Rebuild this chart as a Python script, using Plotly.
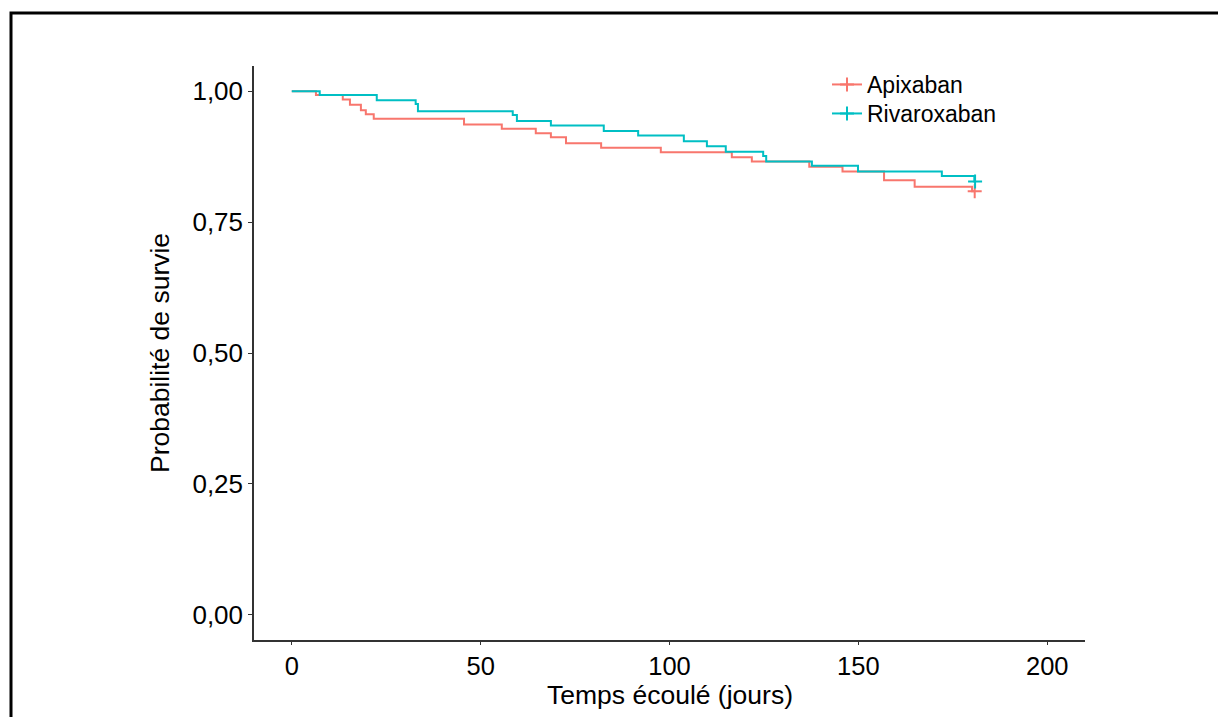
import plotly.graph_objects as go

# Kaplan-Meier step data
apix_t = [0, 6.4, 13.5, 15.4, 18.3, 19.6, 21.7, 45.6, 55.6, 64.6, 68.6, 72.6, 81.9,
          97.7, 116.5, 121.8, 137.0, 145.8, 156.8, 164.9, 180.1, 180.8]
apix_s = [1.0, 0.9924, 0.9838, 0.9742, 0.9634, 0.9557, 0.9471, 0.9361, 0.9284, 0.9195,
          0.9118, 0.9004, 0.8918, 0.8832, 0.8737, 0.8655, 0.8555, 0.8464, 0.8298,
          0.8174, 0.8089, 0.8089]
apix_cens_t = [180.8]
apix_cens_s = [0.8089]

riva_t = [0, 7.4, 22.5, 32.8, 33.4, 58.5, 59.6, 68.6, 82.6, 91.7, 103.8, 109.9, 114.9,
          124.8, 125.6, 137.7, 149.9, 172.1, 180.7, 180.9]
riva_s = [1.0, 0.9927, 0.9824, 0.9756, 0.9615, 0.9546, 0.9431, 0.9342, 0.9237, 0.9151,
          0.9042, 0.8947, 0.8845, 0.8763, 0.8658, 0.8573, 0.8464, 0.8378, 0.8273, 0.8273]
riva_cens_t = [180.9]
riva_cens_s = [0.8273]

x_ticks = [0, 50, 100, 150, 200]
y_ticks = [0, 0.25, 0.5, 0.75, 1.0]
y_tick_text = ["0,00", "0,25", "0,50", "0,75", "1,00"]

names = ["Apixaban", "Rivaroxaban"]
colors = ["#F8766D", "#00BFC4"]
x_title = "Temps écoulé (jours)"
y_title = "Probabilité de survie"

FONT = "Liberation Sans, Arial, sans-serif"

W, H = 1226, 717
OFF = 8  # page body margin
PL, PR, PT, PB = 254, 1085, 66, 640  # plot area in page pixels
pw, ph = PR - PL, PB - PT
L = PL - OFF
T = PT - OFF
R = W - L - pw
B = H - T - ph

def px(xp):
    return (xp - PL) / pw

def py(yp):
    return (PB - yp) / ph

fig = go.Figure()
series = [(apix_t, apix_s, apix_cens_t, apix_cens_s), (riva_t, riva_s, riva_cens_t, riva_cens_s)]
for (t, s, ct, cs), name, col in zip(series, names, colors):
    fig.add_trace(go.Scatter(x=t, y=s, mode="lines", line=dict(color=col, width=2, shape="hv"),
                             showlegend=False, hoverinfo="skip"))
legend_ids = ["legend", "legend2"]
for (t, s, ct, cs), name, col, lg in zip(series, names, colors, legend_ids):
    fig.add_trace(go.Scatter(x=ct, y=cs, mode="lines+markers", name=name, legend=lg,
                             line=dict(color=col, width=2),
                             marker=dict(symbol="cross-thin", size=10, color=col,
                                         line=dict(color=col, width=2))))

legend_common = dict(xanchor="left", yanchor="top", bgcolor="rgba(0,0,0,0)",
                     font=dict(size=23, color="black"))

fig.update_layout(
    width=W, height=H,
    margin=dict(l=L, r=R, t=T, b=B, autoexpand=False),
    paper_bgcolor="white", plot_bgcolor="white",
    font=dict(family=FONT, size=26, color="black"),
    showlegend=True,
    legend=dict(x=px(827), y=py(63), **legend_common),
    legend2=dict(x=px(827), y=py(92), **legend_common),
    xaxis=dict(range=[-10, 210], tickvals=x_ticks, ticktext=[str(v) for v in x_ticks],
               showgrid=False, zeroline=False, showline=True, linecolor="#333333",
               linewidth=1.5, ticks="outside", ticklen=3, tickcolor="#333333", tickwidth=1,
               tickfont=dict(size=25.5, color="black")),
    yaxis=dict(range=[-0.048, 1.048], tickvals=y_ticks, ticktext=y_tick_text,
               showgrid=False, zeroline=False, showline=True, linecolor="#333333",
               linewidth=1.5, ticks="outside", ticklen=4, tickcolor="#333333", tickwidth=1,
               tickfont=dict(size=26, color="black")),
    annotations=[
        dict(text=x_title, xref="paper", yref="paper", x=px(669.5), y=py(695),
             xanchor="center", yanchor="middle", showarrow=False,
             font=dict(size=26.5, color="black")),
        dict(text=y_title, xref="paper", yref="paper", x=px(160), y=py(353),
             xanchor="center", yanchor="middle", showarrow=False, textangle=-90,
             font=dict(size=26.5, color="black")),
    ],
    shapes=[dict(type="rect", xref="paper", yref="paper",
                 x0=px(11), x1=px(1260), y0=py(760), y1=py(13),
                 line=dict(color="black", width=3), fillcolor="rgba(0,0,0,0)", layer="above")],
)

fig.write_html("out.html")
